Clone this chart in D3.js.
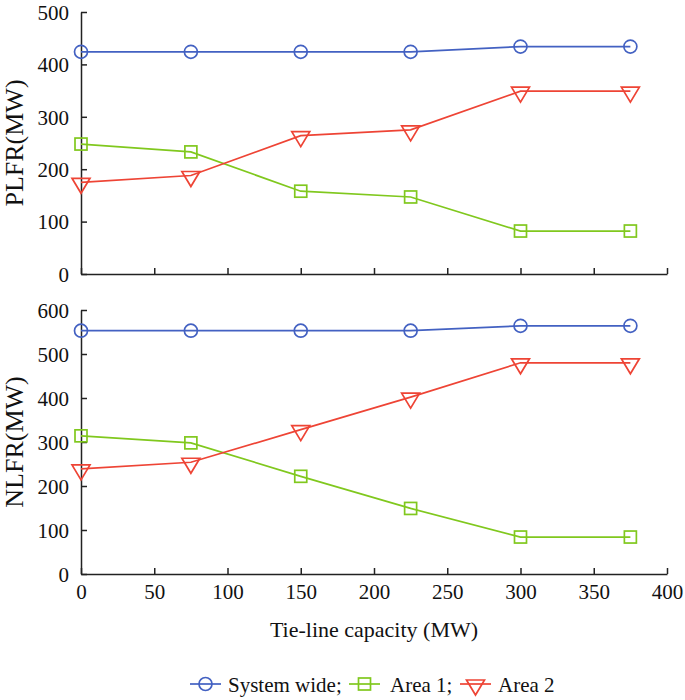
<!DOCTYPE html>
<html><head><meta charset="utf-8">
<script src="https://cdn.jsdelivr.net/npm/d3@7/dist/d3.min.js"></script>
<style>body{margin:0;background:#fff}svg{display:block}text{font-family:"Liberation Serif","Times New Roman",serif;fill:#111}</style>
</head><body><svg id="c" width="685" height="700"></svg>
<script>
const capacity = [0, 75, 150, 225, 300, 375];
const plfrSystem = [424, 424, 424, 424, 434, 434];
const plfrArea1 = [248, 233, 158, 147, 82, 82];
const plfrArea2 = [175, 188, 264, 275, 349, 349];
const nlfrSystem = [553, 553, 553, 553, 564, 564];
const nlfrArea1 = [314, 298, 222, 149, 84, 84];
const nlfrArea2 = [239, 254, 328, 402, 480, 480];
const xTicks = [0, 50, 100, 150, 200, 250, 300, 350, 400];
const plfrTicks = [0, 100, 200, 300, 400, 500];
const nlfrTicks = [0, 100, 200, 300, 400, 500, 600];
const seriesNames = ["System wide;", "Area 1;", "Area 2"];
const colors = ["#4361c2", "#80c81e", "#ee4435"];
const shapes = ["circle", "square", "triangle"];

const svg = d3.select("#c");
const x = d3.scaleLinear().domain([0, 400]).range([81, 667]);

function marker(g, shape, color, px, py) {
  if (shape === "circle") {
    g.append("circle").attr("cx", px).attr("cy", py).attr("r", 6.5)
      .attr("fill", "none").attr("stroke", color).attr("stroke-width", 1.7);
  } else if (shape === "square") {
    g.append("rect").attr("x", px - 6).attr("y", py - 6).attr("width", 12).attr("height", 12)
      .attr("fill", "none").attr("stroke", color).attr("stroke-width", 1.7);
  } else {
    g.append("path").attr("d", `M${px-9},${py-4}L${px+9},${py-4}L${px},${py+11}Z`)
      .attr("fill", "none").attr("stroke", color).attr("stroke-width", 1.7);
  }
}

function panel(yRange, yMax, yTicks, title, series, showXLabels) {
  const y = d3.scaleLinear().domain([0, yMax]).range(yRange);
  const g = svg.append("g");
  const yAxis = d3.axisLeft(y).tickValues(yTicks).tickSizeInner(-6).tickSizeOuter(0).tickPadding(12);
  const ga = g.append("g").attr("transform", `translate(${x(0)},0)`).call(yAxis);
  ga.selectAll("text").style("font-size", "21px").attr("dy", "0.35em");
  const xAxis = d3.axisBottom(x).tickValues(xTicks).tickSizeInner(-6).tickSizeOuter(0).tickPadding(10);
  const gx = g.append("g").attr("transform", `translate(0,${y(0)})`).call(xAxis);
  gx.selectAll("text").style("font-size", "21px");
  if (!showXLabels) gx.selectAll("text").remove();
  g.selectAll("g").attr("font-family", null);
  g.selectAll(".domain").attr("stroke", "#222").attr("stroke-width", 1.5);
  g.selectAll(".tick line").attr("stroke", "#222").attr("stroke-width", 1.5);
  g.selectAll(".tick text").attr("fill", "#111");
  const cy = (yRange[0] + yRange[1]) / 2;
  g.append("text").attr("transform", `translate(23,${cy}) rotate(-90)`)
    .attr("text-anchor", "middle").style("font-size", "26px").text(title);
  const line = d3.line().x((d, i) => x(capacity[i])).y(d => y(d));
  series.forEach((vals, k) => {
    g.append("path").datum(vals).attr("d", line).attr("fill", "none")
      .attr("stroke", colors[k]).attr("stroke-width", 1.7);
    vals.forEach((v, i) => marker(g, shapes[k], colors[k], x(capacity[i]), y(v)));
  });
}

panel([274, 12], 500, plfrTicks, "PLFR(MW)", [plfrSystem, plfrArea1, plfrArea2], false);
panel([574, 310], 600, nlfrTicks, "NLFR(MW)", [nlfrSystem, nlfrArea1, nlfrArea2], true);

svg.append("text").attr("x", 374).attr("y", 637).attr("text-anchor", "middle")
  .style("font-size", "22px").text("Tie-line capacity (MW)");

const lg = svg.append("g");
const legX = [190, 349, 460];
const legTextX = [228, 390, 498];
const ly = 684;
seriesNames.forEach((name, k) => {
  const x0 = legX[k];
  lg.append("line").attr("x1", x0).attr("x2", x0 + 31).attr("y1", ly).attr("y2", ly)
    .attr("stroke", colors[k]).attr("stroke-width", 1.7);
  marker(lg, shapes[k], colors[k], x0 + 15.5, ly);
  lg.append("text").attr("x", legTextX[k]).attr("y", ly + 8).style("font-size", "21px").text(name);
});
</script></body></html>
